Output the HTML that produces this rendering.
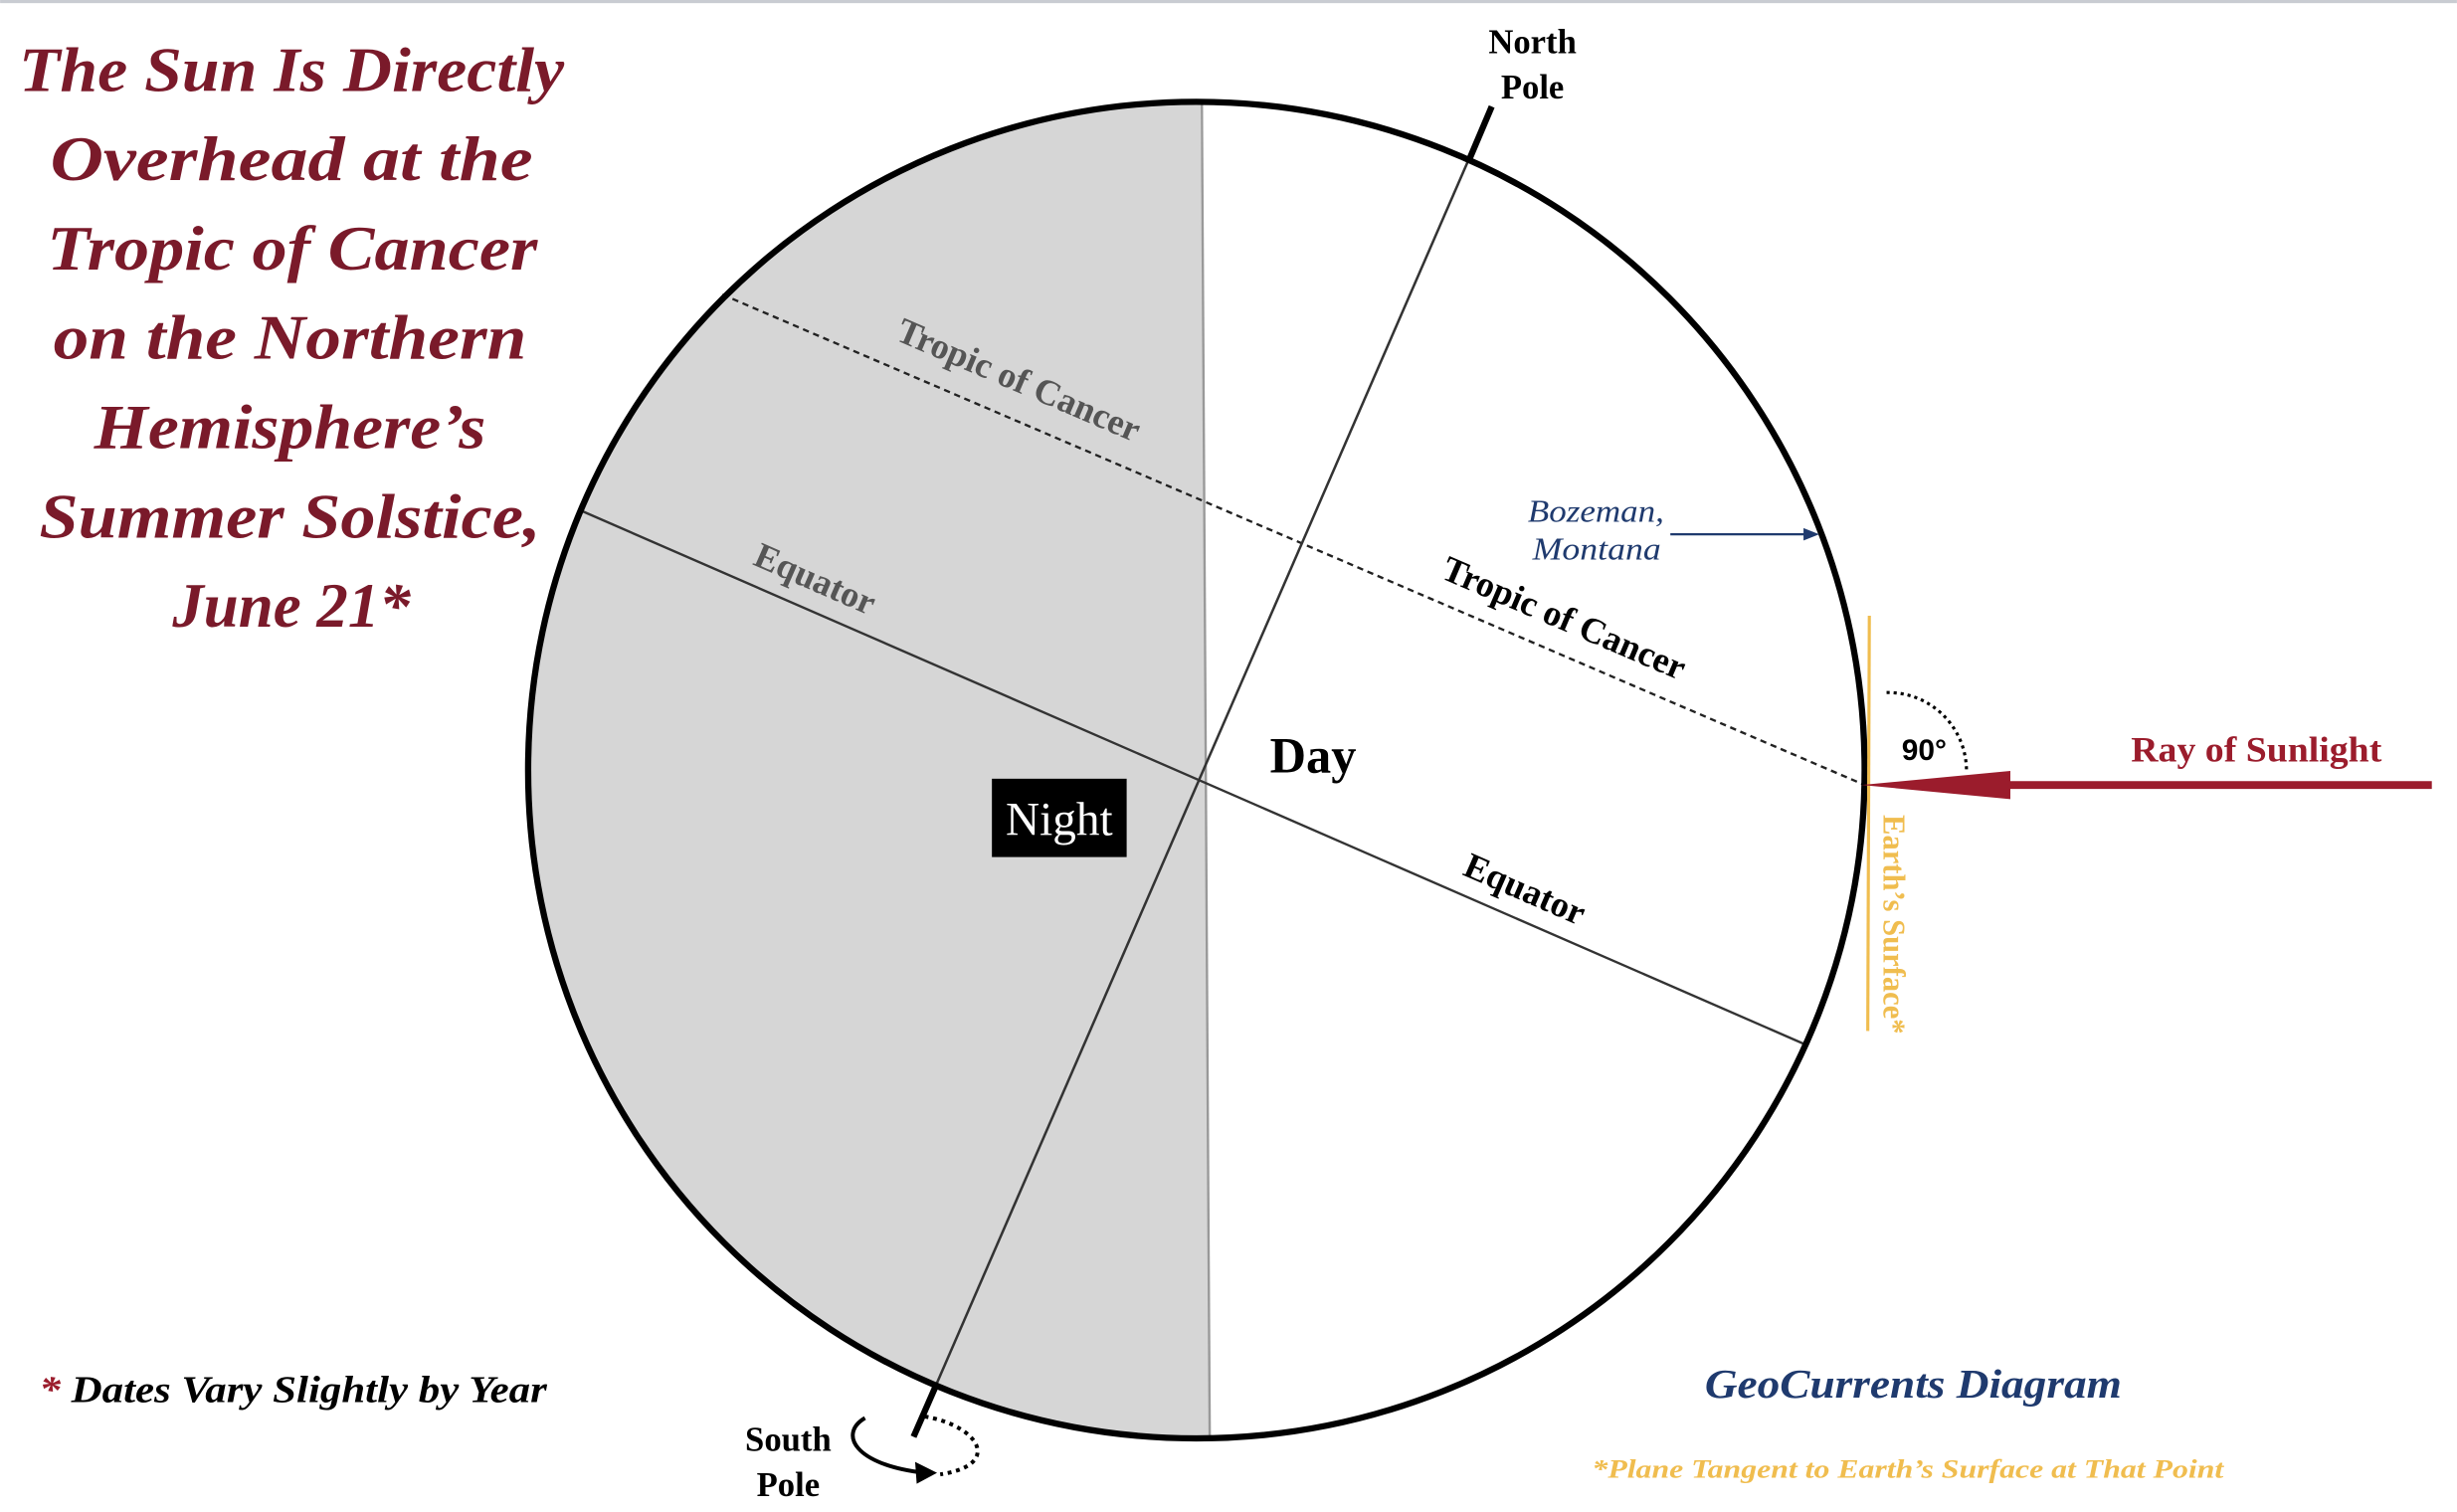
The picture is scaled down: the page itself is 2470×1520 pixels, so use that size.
<!DOCTYPE html>
<html><head><meta charset="utf-8"><style>
html,body{margin:0;padding:0;background:#fff;}
svg{display:block;}
text{font-family:"Liberation Serif",serif;}
</style></head><body>
<svg width="2470" height="1520" viewBox="0 0 1568 965" xmlns="http://www.w3.org/2000/svg">
<defs><clipPath id="c"><circle cx="763.5" cy="491.5" r="426.5"/></clipPath></defs>
<rect x="0" y="0" width="1568" height="965" fill="#fff"/>
<rect x="0" y="0" width="1568" height="2" fill="#c9ccd2"/>
<!-- night -->
<polygon points="300,40 766,40 773,940 300,940" fill="#d6d6d6" clip-path="url(#c)"/>
<line x1="767" y1="65" x2="772" y2="918" stroke="#999" stroke-width="1.5"/>
<!-- lines -->
<line x1="371" y1="326" x2="1153" y2="667" stroke="#333" stroke-width="1.5"/>
<line x1="461" y1="188" x2="1190" y2="501" stroke="#222" stroke-width="1.5" stroke-dasharray="4 3"/>
<line x1="952" y1="68" x2="583" y2="917" stroke="#333" stroke-width="1.6"/>
<line x1="952" y1="68" x2="938" y2="101" stroke="#000" stroke-width="4"/>
<line x1="597" y1="885" x2="583" y2="917" stroke="#000" stroke-width="4"/>
<circle cx="763.5" cy="491.5" r="426.5" fill="none" stroke="#000" stroke-width="4"/>
<!-- labels on lines -->
<text x="650" y="250" font-size="23" font-weight="bold" fill="#555" text-anchor="middle" transform="rotate(23.2 650 243)">Tropic of Cancer</text>
<text x="520" y="377" font-size="23" font-weight="bold" fill="#555" text-anchor="middle" transform="rotate(23.6 520 370)">Equator</text>
<text x="998" y="402" font-size="23" font-weight="bold" fill="#000" text-anchor="middle" transform="rotate(23.2 998 395)">Tropic of Cancer</text>
<text x="973" y="575" font-size="23" font-weight="bold" fill="#000" text-anchor="middle" transform="rotate(23.6 973 568)">Equator</text>
<text x="838" y="493" font-size="32" font-weight="bold" fill="#000" text-anchor="middle">Day</text>
<rect x="633" y="497" width="86" height="50" fill="#000"/>
<text x="676" y="533" font-size="30" fill="#fff" text-anchor="middle">Night</text>
<text x="978" y="34" font-size="22" font-weight="bold" text-anchor="middle">North</text>
<text x="978" y="63" font-size="22" font-weight="bold" text-anchor="middle">Pole</text>
<text x="503" y="926" font-size="22" font-weight="bold" text-anchor="middle">South</text>
<text x="503" y="955" font-size="22" font-weight="bold" text-anchor="middle">Pole</text>
<!-- rotation arrow -->
<path d="M552,905 C535,915 545,935 590,940" fill="none" stroke="#000" stroke-width="2.5"/>
<polygon points="598,940 584,933 585,947" fill="#000"/>
<path d="M590,904 C625,910 640,935 600,941" fill="none" stroke="#000" stroke-width="2.5" stroke-dasharray="2.5 3"/>
<!-- Bozeman -->
<text x="1062" y="333" font-size="20" font-style="italic" fill="#1f3a6e" text-anchor="end" textLength="87" lengthAdjust="spacingAndGlyphs">Bozeman,</text>
<text x="1060" y="357" font-size="20" font-style="italic" fill="#1f3a6e" text-anchor="end" textLength="82" lengthAdjust="spacingAndGlyphs">Montana</text>
<line x1="1066" y1="341" x2="1155" y2="341" stroke="#1f3a6e" stroke-width="1.5"/>
<polygon points="1161,341 1151,337 1151,345" fill="#1f3a6e"/>
<!-- earth surface -->
<line x1="1193" y1="393" x2="1192" y2="658" stroke="#f0bd4f" stroke-width="2"/>
<text x="1202" y="590" font-size="20" font-weight="bold" fill="#f0bd4f" text-anchor="middle" transform="rotate(90 1202 590)" textLength="140" lengthAdjust="spacingAndGlyphs">Earth’s Surface*</text>
<path d="M1204,442 A50,50 0 0 1 1255,492" fill="none" stroke="#000" stroke-width="2" stroke-dasharray="2 2.5"/>
<text x="1228" y="485" font-size="19" font-weight="bold" style="font-family:'Liberation Sans',sans-serif" text-anchor="middle">90°</text>
<!-- ray -->
<line x1="1552" y1="501" x2="1280" y2="501" stroke="#9b1c2c" stroke-width="5"/>
<polygon points="1188,501 1283,492 1283,510" fill="#9b1c2c"/>
<text x="1440" y="486" font-size="23" font-weight="bold" fill="#9b1c2c" text-anchor="middle" textLength="160" lengthAdjust="spacingAndGlyphs">Ray of Sunlight</text>
<!-- title -->
<g font-size="40" font-weight="bold" font-style="italic" fill="#7a1a2a">
<text x="12" y="58" textLength="348" lengthAdjust="spacingAndGlyphs">The Sun Is Directly</text>
<text x="32" y="115" textLength="308" lengthAdjust="spacingAndGlyphs">Overhead  at the</text>
<text x="30" y="172" textLength="313" lengthAdjust="spacingAndGlyphs">Tropic of Cancer</text>
<text x="34" y="229" textLength="302" lengthAdjust="spacingAndGlyphs">on the Northern</text>
<text x="60" y="286" textLength="250" lengthAdjust="spacingAndGlyphs">Hemisphere’s</text>
<text x="25" y="343" textLength="320" lengthAdjust="spacingAndGlyphs">Summer Solstice,</text>
<text x="110" y="400" textLength="152" lengthAdjust="spacingAndGlyphs">June 21*</text>
</g>
<text x="25" y="895" font-size="24" font-weight="bold" font-style="italic" textLength="324" lengthAdjust="spacingAndGlyphs"><tspan fill="#9b1c2c">*</tspan> Dates Vary Slightly by Year</text>
<text x="1088" y="892" font-size="26" font-weight="bold" font-style="italic" fill="#1f3a6e" textLength="266" lengthAdjust="spacingAndGlyphs">GeoCurrents Diagram</text>
<text x="1016" y="943" font-size="17" font-weight="bold" font-style="italic" fill="#f0bd4f" textLength="403" lengthAdjust="spacingAndGlyphs">*Plane Tangent to Earth’s Surface at That Point</text>
</svg>
</body></html>
